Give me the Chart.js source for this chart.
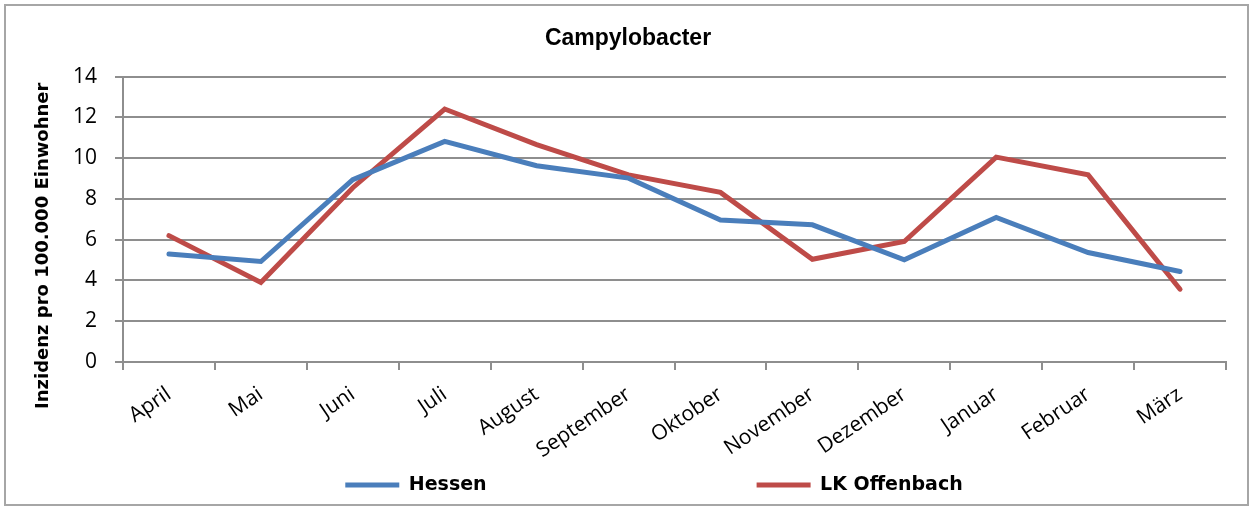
<!DOCTYPE html>
<html>
<head>
<meta charset="utf-8">
<script src="https://cdn.jsdelivr.net/npm/chart.js@4.4.1/dist/chart.umd.min.js"></script>
<style>
  html, body { margin: 0; padding: 0; background: #fff; }
</style>
</head>
<body>
<canvas id="myChart" width="1253" height="508"></canvas>
<script>
var months = ['April', 'Mai', 'Juni', 'Juli', 'August', 'September', 'Oktober', 'November', 'Dezember', 'Januar', 'Februar', 'März'];
var hessen = [5.3, 4.93, 8.94, 10.82, 9.63, 9.02, 6.97, 6.73, 5.01, 7.09, 5.37, 4.44];
var offenbach = [6.2, 3.9, 8.55, 12.41, 10.66, 9.18, 8.32, 5.04, 5.91, 10.05, 9.18, 3.57];
var yMin = 0, yMax = 14, yStep = 2;

var gridGray = '#8e8e8e';
Chart.defaults.font.family = '"DejaVu Sans", sans-serif';
Chart.defaults.color = '#000';

// outer frame of the chart
var frame = {
    id: 'frame',
    beforeDraw: function (chart) {
        var c = chart.ctx;
        c.save();
        c.fillStyle = '#fff';
        c.fillRect(0, 0, chart.width, chart.height);
        c.strokeStyle = '#a6a6a6';
        c.lineWidth = 2;
        c.strokeRect(5, 5, 1243, 500);
        c.restore();
    }
};

// move y title down a bit and spread legend like the excel original
var nudge = {
    id: 'nudge',
    afterLayout: function (chart) {
        chart.scales.y.bottom += 53;
        var lg = chart.legend;
        lg.left += 26;
        lg.right += 26;
        lg.top = 485 - lg.options.labels.padding - 9.5;
    }
};

var ctx = document.getElementById('myChart').getContext('2d');
var myChart = new Chart(ctx, {
    type: 'line',
    data: {
        labels: months,
        datasets: [{
            label: 'Hessen',
            data: hessen,
            borderColor: '#4a7ebb',
            backgroundColor: '#4a7ebb',
            borderWidth: 5,
            borderCapStyle: 'round',
            pointRadius: 0,
            tension: 0
        }, {
            label: 'LK Offenbach',
            data: offenbach,
            borderColor: '#be4b48',
            backgroundColor: '#be4b48',
            borderWidth: 5,
            borderCapStyle: 'round',
            pointRadius: 0,
            tension: 0
        }]
    },
    options: {
        responsive: false,
        animation: false,
        devicePixelRatio: 1,
        layout: {
            padding: { left: 30, right: 27, top: 0, bottom: 0 }
        },
        scales: {
            x: {
                offset: true,
                grid: {
                    offset: true,
                    drawOnChartArea: true,
                    color: function (c) { return c.index === 0 ? gridGray : 'rgba(0,0,0,0)'; },
                    tickColor: gridGray,
                    lineWidth: 2,
                    tickLength: 8
                },
                border: { color: gridGray, width: 2 },
                ticks: {
                    autoSkip: false,
                    minRotation: 34,
                    maxRotation: 34,
                    padding: 12,
                    font: { family: '"Open Sans", sans-serif', size: 21 }
                },
                afterFit: function (s) { s.height = 106; }
            },
            y: {
                min: yMin,
                max: yMax,
                ticks: {
                    stepSize: yStep,
                    padding: 18,
                    font: { family: '"Open Sans", sans-serif', size: 21 }
                },
                grid: {
                    color: gridGray,
                    lineWidth: 2,
                    tickLength: 8
                },
                border: { display: false },
                title: {
                    display: true,
                    text: 'Inzidenz pro 100.000 Einwohner',
                    font: { size: 18, weight: 'bold' },
                    padding: { top: 3, bottom: 0 }
                },
                afterFit: function (s) { s.width = 93; }
            }
        },
        plugins: {
            title: {
                display: true,
                text: 'Campylobacter',
                font: { family: '"Liberation Sans", Arial, sans-serif', size: 23, weight: 'bold' },
                padding: { top: 25, bottom: 24 }
            },
            legend: {
                position: 'bottom',
                maxHeight: 40,
                labels: {
                    usePointStyle: true,
                    pointStyle: 'line',
                    pointStyleWidth: 54,
                    padding: 270,
                    font: { size: 19, weight: 'bold' }
                }
            },
            tooltip: { enabled: false }
        }
    },
    plugins: [frame, nudge]
});
</script>
</body>
</html>
